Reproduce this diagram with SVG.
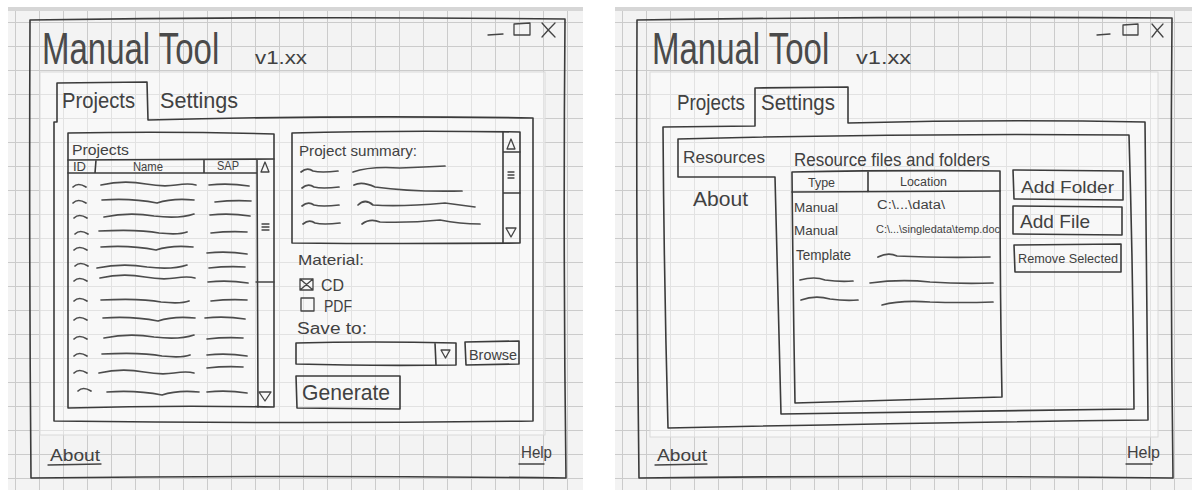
<svg xmlns="http://www.w3.org/2000/svg" xmlns:xlink="http://www.w3.org/1999/xlink" width="1196" height="490" viewBox="0 0 1196 490">
  <style>
    .paper { fill: #f3f3f3; }
    .sheet { fill: #ffffff; fill-opacity: 0.45; stroke: #dadada; stroke-width: 1; }
    .ln { fill: none; stroke: #3b3b3b; stroke-width: 1.6; stroke-linecap: round; stroke-linejoin: round; }
    .lt { fill: none; stroke: #444; stroke-width: 1.3; stroke-linecap: round; stroke-linejoin: round; }
    .sq { fill: none; stroke: #4c4c4c; stroke-width: 1.7; stroke-linecap: round; }
    .t { font-family: "Liberation Sans", Arial, sans-serif; fill: #414141; }
    .title { font-family: "Liberation Sans", Arial, sans-serif; fill: #4a4a4a; font-size: 33px; }
  </style>
  <defs>
    <pattern id="gridL" patternUnits="userSpaceOnUse" x="15" y="22" width="24" height="24">
      <path d="M0,0.5 H24 M0.5,0 V24" fill="none" stroke="#cbcbcb" stroke-width="1"/>
    </pattern>
    <pattern id="gridR" patternUnits="userSpaceOnUse" x="22" y="22" width="24" height="24">
      <path d="M0,0.5 H24 M0.5,0 V24" fill="none" stroke="#cbcbcb" stroke-width="1"/>
    </pattern>
    <!-- scribbled placeholder strokes for list rows -->
    <path id="idm" d="M0,2 Q5,-3 13,2"/>
    <path id="n1" d="M0,1 Q22,-4 45,0 Q62,3 75,1 Q88,-1 95,1"/>
    <path id="n2" d="M0,0 Q30,-2 55,3 Q70,-2 92,0"/>
    <path id="n3" d="M0,2 Q25,-3 50,1 Q75,4 90,-1"/>
    <path id="n4" d="M0,0 Q40,-2 60,2 Q80,4 88,1"/>
    <path id="s1" d="M0,0 Q20,-2 40,1"/>
    <path id="s2" d="M0,1 Q18,-1 36,0"/>
    <path id="sh" d="M0,2 Q6,-3 12,1 Q20,3 37,1"/>
  </defs>

  <!-- paper background -->
  <rect width="1196" height="490" fill="#ffffff"/>
  <rect class="paper" x="8" y="7" width="575" height="483"/>
  <rect x="8" y="7" width="575" height="483" fill="url(#gridL)"/>
  <rect class="paper" x="615" y="7" width="577" height="483"/>
  <rect x="615" y="7" width="577" height="483" fill="url(#gridR)"/>
  <path d="M8,9 H583 M615,9 H1192" stroke="#d6d6d6" stroke-width="4" fill="none"/>
  <rect class="sheet" x="40" y="72" width="505" height="363"/>
  <rect class="sheet" x="650" y="72" width="508" height="365"/>

  <!-- ===== Projects screen ===== -->
  <g id="projects-window">
    <path class="ln" d="M30,20 Q300,16 565,19 Q563,250 566,478 Q300,475 31,478 Q29,250 30,20 Z"/>
    <text class="title" transform="translate(42,64) scale(1,1.35)">Manual Tool</text>
    <text class="t" x="255" y="64" font-size="19" textLength="52" lengthAdjust="spacingAndGlyphs">v1.xx</text>
    <g id="projects-window-controls">
      <path class="lt" d="M488,35 L503,34"/>
      <path class="lt" d="M514,24 L530,23 L530,35 L514,35 Z"/>
      <path class="lt" d="M542,23 Q548,30 555,37 M555,23 Q548,30 542,37"/>
    </g>
  </g>

  <g id="projects-tabs">
    <path class="ln" d="M54,122 L57,122 L57,83 L147,82 L148,120 Q340,115 533,118 L533,421 Q300,424 54,421 Z"/>
    <text class="t" x="62" y="108" font-size="22" textLength="73" lengthAdjust="spacingAndGlyphs">Projects</text>
    <text class="t" x="160" y="108" font-size="22" textLength="78" lengthAdjust="spacingAndGlyphs">Settings</text>
  </g>

  <g id="projects-list">
    <path class="ln" d="M68,133 Q170,131 274,134 L274,407 Q170,405 68,408 Z"/>
    <text class="t" x="72" y="155" font-size="15" textLength="57" lengthAdjust="spacingAndGlyphs">Projects</text>
    <path class="ln" d="M68,160 L274,159 M68,173 L257,173 M96,160 L95,173 M204,160 L204,173 M257,159 L258,407"/>
    <text class="t" x="73" y="171" font-size="12" textLength="13" lengthAdjust="spacingAndGlyphs">ID</text>
    <text class="t" x="133" y="171" font-size="12" textLength="30" lengthAdjust="spacingAndGlyphs">Name</text>
    <text class="t" x="217" y="170" font-size="12" textLength="22" lengthAdjust="spacingAndGlyphs">SAP</text>
    <g id="projects-list-scrollbar">
      <path class="lt" d="M261,172 L265,162 L269,172 Z"/>
      <path class="lt" d="M262,224 H269 M262,227 H269 M262,230 H269"/>
      <path class="lt" d="M256,282 L274,282"/>
      <path class="lt" d="M259,392 L271,392 L265,401 Z"/>
    </g>
    <g id="projects-list-rows">
      <use class="sq" href="#idm" transform="translate(73,185)"/><use class="sq" href="#n1" transform="translate(101,184)"/><use class="sq" href="#s1" transform="translate(209,185)"/>
      <use class="sq" href="#idm" transform="translate(73,201)"/><use class="sq" href="#n2" transform="translate(102,200)"/><use class="sq" href="#s2" transform="translate(215,201)"/>
      <use class="sq" href="#idm" transform="translate(74,216)"/><use class="sq" href="#n3" transform="translate(104,215)"/><use class="sq" href="#s1" transform="translate(210,215)"/>
      <use class="sq" href="#idm" transform="translate(75,232)"/><use class="sq" href="#n4" transform="translate(99,231)"/><use class="sq" href="#s2" transform="translate(211,232)"/>
      <use class="sq" href="#idm" transform="translate(74,248)"/><use class="sq" href="#n2" transform="translate(101,247)"/><use class="sq" href="#s1" transform="translate(207,253)"/>
      <use class="sq" href="#idm" transform="translate(75,264)"/><use class="sq" href="#n3" transform="translate(97,266)"/><use class="sq" href="#s2" transform="translate(209,267)"/>
      <use class="sq" href="#idm" transform="translate(74,279)"/><use class="sq" href="#n1" transform="translate(100,277)"/><use class="sq" href="#s1" transform="translate(208,282)"/>
      <use class="sq" href="#idm" transform="translate(74,299)"/><use class="sq" href="#n4" transform="translate(101,300)"/><use class="sq" href="#s2" transform="translate(211,300)"/>
      <use class="sq" href="#idm" transform="translate(74,318)"/><use class="sq" href="#n2" transform="translate(103,318)"/><use class="sq" href="#s1" transform="translate(205,318)"/>
      <use class="sq" href="#idm" transform="translate(74,337)"/><use class="sq" href="#n3" transform="translate(104,336)"/><use class="sq" href="#s2" transform="translate(207,338)"/>
      <use class="sq" href="#idm" transform="translate(74,354)"/><use class="sq" href="#n4" transform="translate(102,354)"/><use class="sq" href="#s1" transform="translate(207,355)"/>
      <use class="sq" href="#idm" transform="translate(74,371)"/><use class="sq" href="#n1" transform="translate(99,372)"/><use class="sq" href="#s2" transform="translate(207,367)"/>
      <use class="sq" href="#idm" transform="translate(78,389)"/><use class="sq" href="#n2" transform="translate(107,392)"/><use class="sq" href="#s1" transform="translate(207,392)"/>
    </g>
  </g>

  <g id="project-summary">
    <path class="ln" d="M292,133 Q400,130 520,132 L520,243 Q400,244 292,243 Z"/>
    <path class="ln" d="M503,132 L503,243 M503,152 L520,152 M503,193 L520,193"/>
    <path class="lt" d="M507,149 L511,139 L515,149 Z"/>
    <path class="lt" d="M508,172 H514 M508,175 H514 M508,178 H514"/>
    <path class="lt" d="M506,228 L516,228 L511,237 Z"/>
    <text class="t" x="299" y="156" font-size="15" textLength="118" lengthAdjust="spacingAndGlyphs">Project summary:</text>
    <use class="sq" href="#sh" transform="translate(301,170)"/>
    <use class="sq" href="#sh" transform="translate(302,186)"/>
    <use class="sq" href="#sh" transform="translate(302,204)"/>
    <use class="sq" href="#sh" transform="translate(303,222)"/>
    <path class="sq" d="M353,172 Q370,166 400,168 Q425,167 445,166"/>
    <path class="sq" d="M354,185 Q362,181 375,187 Q410,192 462,191"/>
    <path class="sq" d="M358,205 Q365,198 373,205 Q400,207 445,203 Q460,205 475,207"/>
    <path class="sq" d="M362,224 Q370,218 380,222 Q410,223 440,220 Q460,224 480,224"/>
  </g>

  <g id="material-options">
    <text class="t" x="298" y="265" font-size="15" textLength="66" lengthAdjust="spacingAndGlyphs">Material:</text>
    <path class="lt" d="M300,279 L313,279 L313,290 L300,290 Z M300,279 L313,290 M313,279 L300,290"/>
    <text class="t" x="321" y="291" font-size="16" textLength="23" lengthAdjust="spacingAndGlyphs">CD</text>
    <path class="lt" d="M301,298 L314,298 L314,311 L301,311 Z"/>
    <text class="t" x="324" y="312" font-size="16" textLength="28" lengthAdjust="spacingAndGlyphs">PDF</text>
  </g>

  <g id="save-to">
    <text class="t" x="297" y="334" font-size="16" textLength="70" lengthAdjust="spacingAndGlyphs">Save to:</text>
    <path class="ln" d="M296,343 Q370,341 456,343 L456,365 Q370,366 296,364 Z M435,343 L436,365"/>
    <path class="lt" d="M441,350 L450,350 L445.5,358 Z"/>
    <path class="ln" d="M465,342 L519,341 L519,364 L466,365 Z"/>
    <text class="t" x="469" y="360" font-size="15" textLength="48" lengthAdjust="spacingAndGlyphs">Browse</text>
  </g>

  <g id="generate-button">
    <path class="ln" d="M296,376 L400,376 L400,409 L297,408 Z"/>
    <text class="t" x="302" y="400" font-size="22" textLength="88" lengthAdjust="spacingAndGlyphs">Generate</text>
  </g>

  <g id="projects-footer">
    <text class="t" x="50" y="461" font-size="17" textLength="50" lengthAdjust="spacingAndGlyphs">About</text>
    <path class="lt" d="M48,465 L101,464"/>
    <text class="t" x="521" y="458" font-size="17" textLength="31" lengthAdjust="spacingAndGlyphs">Help</text>
    <path class="lt" d="M519,464 L544,464"/>
  </g>

  <!-- ===== Settings screen ===== -->
  <g id="settings-window">
    <path class="ln" d="M637,20 Q900,16 1172,18 Q1170,250 1173,478 Q900,475 639,478 Q636,250 637,20 Z"/>
    <text class="title" transform="translate(652,64) scale(1,1.35)">Manual Tool</text>
    <text class="t" x="856" y="64" font-size="19" textLength="55" lengthAdjust="spacingAndGlyphs">v1.xx</text>
    <g id="settings-window-controls">
      <path class="lt" d="M1097,35 L1110,34"/>
      <path class="lt" d="M1123,25 L1138,24 L1138,35 L1123,35 Z"/>
      <path class="lt" d="M1152,24 Q1157,30 1163,37 M1163,24 Q1157,30 1152,37"/>
    </g>
  </g>

  <g id="settings-tabs">
    <path class="ln" d="M663,127 L755,126 L755,88 L848,87 L848,123 Q1000,119 1145,122 L1148,420 Q900,423 668,428 Q664,280 663,127 Z"/>
    <text class="t" x="677" y="110" font-size="22" textLength="68" lengthAdjust="spacingAndGlyphs">Projects</text>
    <text class="t" x="761" y="110" font-size="22" textLength="74" lengthAdjust="spacingAndGlyphs">Settings</text>
  </g>

  <g id="settings-sections">
    <path class="ln" d="M678,177 L678,139 Q900,133 1129,135 Q1133,270 1134,409 Q950,411 781,414 Q778,300 775,177 Z"/>
    <text class="t" x="683" y="163" font-size="17" textLength="82" lengthAdjust="spacingAndGlyphs">Resources</text>
    <text class="t" x="693" y="206" font-size="20" textLength="55" lengthAdjust="spacingAndGlyphs">About</text>
  </g>

  <g id="resource-table">
    <text class="t" x="794" y="166" font-size="18" textLength="196" lengthAdjust="spacingAndGlyphs">Resource files and folders</text>
    <path class="ln" d="M792,172 Q900,170 1000,171 Q1000,290 1002,397 Q900,400 795,403 Q793,290 792,172 Z"/>
    <path class="ln" d="M792,192 L1000,191 M868,172 L868,192"/>
    <text class="t" x="808" y="187" font-size="13" textLength="27" lengthAdjust="spacingAndGlyphs">Type</text>
    <text class="t" x="900" y="186" font-size="12" textLength="47" lengthAdjust="spacingAndGlyphs">Location</text>
    <text class="t" x="794" y="212" font-size="13" textLength="44" lengthAdjust="spacingAndGlyphs">Manual</text>
    <text class="t" x="877" y="209" font-size="12" textLength="68" lengthAdjust="spacingAndGlyphs">C:\...\data\</text>
    <text class="t" x="794" y="235" font-size="13" textLength="44" lengthAdjust="spacingAndGlyphs">Manual</text>
    <text class="t" x="876" y="233" font-size="10" textLength="124" lengthAdjust="spacingAndGlyphs">C:\...\singledata\temp.doc</text>
    <text class="t" x="796" y="260" font-size="14" textLength="55" lengthAdjust="spacingAndGlyphs">Template</text>
    <path class="sq" d="M878,257 Q888,252 897,256 Q940,258 990,257"/>
    <path class="sq" d="M800,280 Q815,276 825,280 Q840,282 853,281"/>
    <path class="sq" d="M870,283 Q900,279 930,282 Q960,284 993,283"/>
    <path class="sq" d="M801,300 Q815,295 830,299 Q845,301 858,300"/>
    <path class="sq" d="M882,305 Q900,300 930,302 Q960,303 993,302"/>
  </g>

  <g id="add-folder-button">
    <path class="ln" d="M1013,170 L1123,171 L1123,200 L1014,199 Z"/>
    <text class="t" x="1021" y="193" font-size="17" textLength="93" lengthAdjust="spacingAndGlyphs">Add Folder</text>
  </g>
  <g id="add-file-button">
    <path class="ln" d="M1013,206 L1122,207 L1122,235 L1013,234 Z"/>
    <text class="t" x="1020" y="228" font-size="19" textLength="70" lengthAdjust="spacingAndGlyphs">Add File</text>
  </g>
  <g id="remove-selected-button">
    <path class="ln" d="M1014,245 L1121,244 L1121,272 L1015,272 Z"/>
    <text class="t" x="1018" y="263" font-size="12" textLength="100" lengthAdjust="spacingAndGlyphs">Remove Selected</text>
  </g>

  <g id="settings-footer">
    <text class="t" x="657" y="461" font-size="17" textLength="50" lengthAdjust="spacingAndGlyphs">About</text>
    <path class="lt" d="M655,465 L707,464"/>
    <text class="t" x="1127" y="458" font-size="17" textLength="33" lengthAdjust="spacingAndGlyphs">Help</text>
    <path class="lt" d="M1126,464 L1152,464"/>
  </g>
</svg>
